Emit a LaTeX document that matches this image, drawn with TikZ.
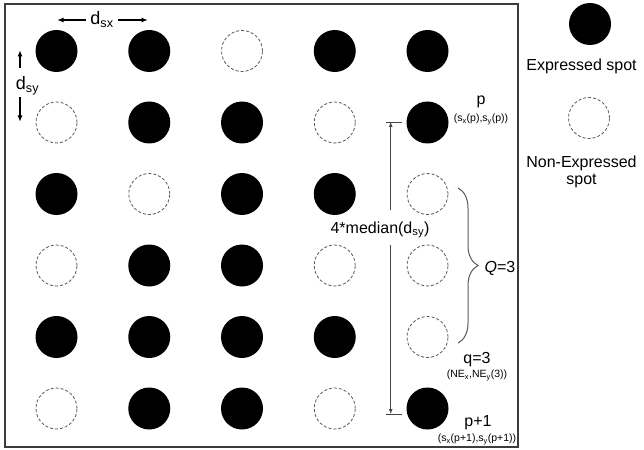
\documentclass[tikz,border=0pt]{standalone}
\usepackage{fontspec}
\setmainfont{Liberation Sans}
\usetikzlibrary{arrows.meta,decorations.pathreplacing}
\definecolor{dashgray}{HTML}{5A5A5A}
\definecolor{framegray}{HTML}{3C3C3C}
\definecolor{linegray}{HTML}{454545}
\begin{document}
\begin{tikzpicture}[x=1pt,y=-1pt,
  spotE/.style={circle,fill=black,minimum size=42pt,inner sep=0pt},
  spotN/.style={circle,draw=dashgray,line width=0.8pt,dash pattern=on 3pt off 2pt,minimum size=41pt,inner sep=0pt},
  dimarrow/.style={line width=1.3pt,-{Latex[length=6.5pt,width=5pt]}},
  medarrow/.style={draw=linegray,line width=0.9pt,-{Latex[length=5pt,width=4pt]}},
  bigtxt/.style={font=\fontsize{16}{17}\selectfont,inner sep=0pt},
  smalltxt/.style={font=\fontsize{10.5}{12}\selectfont,inner sep=0pt},
]
\useasboundingbox (0,0) rectangle (644,449);
\fill[white] (0,0) rectangle (644,449);
\draw[framegray,line width=1.3pt] (5,4) rectangle (518,447);

% row 1: E E N E E
\node[spotE] (s11) at (56.5,51) {};
\node[spotE] (s12) at (149.25,51) {};
\node[spotN] (s13) at (242,51) {};
\node[spotE] (s14) at (334.75,51) {};
\node[spotE] (s15) at (427.5,51) {};
% row 2: N E E N E
\node[spotN] (s21) at (56.5,122.5) {};
\node[spotE] (s22) at (149.25,122.5) {};
\node[spotE] (s23) at (242,122.5) {};
\node[spotN] (s24) at (334.75,122.5) {};
\node[spotE] (s25) at (427.5,122.5) {};
% row 3: E N E E N
\node[spotE] (s31) at (56.5,194) {};
\node[spotN] (s32) at (149.25,194) {};
\node[spotE] (s33) at (242,194) {};
\node[spotE] (s34) at (334.75,194) {};
\node[spotN] (s35) at (427.5,194) {};
% row 4: N E E N N
\node[spotN] (s41) at (56.5,265.5) {};
\node[spotE] (s42) at (149.25,265.5) {};
\node[spotE] (s43) at (242,265.5) {};
\node[spotN] (s44) at (334.75,265.5) {};
\node[spotN] (s45) at (427.5,265.5) {};
% row 5: E E E E N
\node[spotE] (s51) at (56.5,337) {};
\node[spotE] (s52) at (149.25,337) {};
\node[spotE] (s53) at (242,337) {};
\node[spotE] (s54) at (334.75,337) {};
\node[spotN] (s55) at (427.5,337) {};
% row 6: N E E N E
\node[spotN] (s61) at (56.5,408.5) {};
\node[spotE] (s62) at (149.25,408.5) {};
\node[spotE] (s63) at (242,408.5) {};
\node[spotN] (s64) at (334.75,408.5) {};
\node[spotE] (s65) at (427.5,408.5) {};

% d_sx
\node[font=\fontsize{18}{20}\selectfont,inner sep=0pt,anchor=base] (dsx) at (102,25) {d\textsubscript{sx}};
\coordinate (dsxL) at (57,20);
\coordinate (dsxR) at (148,20);
\coordinate (dsxLs) at (86,20);
\coordinate (dsxRs) at (118,20);
\draw[dimarrow] (dsxLs) -- (dsxL);
\draw[dimarrow] (dsxRs) -- (dsxR);

% d_sy
\node[font=\fontsize{18}{20}\selectfont,inner sep=0pt,anchor=base] (dsy) at (27.5,90) {d\textsubscript{sy}};
\coordinate (dsyT) at (20,50);
\coordinate (dsyTs) at (20,68);
\coordinate (dsyB) at (20,122);
\coordinate (dsyBs) at (20,97);
\draw[dimarrow] (dsyTs) -- (dsyT);
\draw[dimarrow] (dsyBs) -- (dsyB);

% 4*median arrow
\node[bigtxt,anchor=base] (med) at (380,233) {4*median(d\textsubscript{sy})};
\coordinate (mTop) at (390.7,122);
\coordinate (mBot) at (390.7,414);
\coordinate (mU) at (390.7,210);
\coordinate (mL) at (390.7,245);
\draw[medarrow] (mU) -- (mTop);
\draw[medarrow] (mL) -- (mBot);
\draw[linegray,line width=0.9pt] ([xshift=-5pt]mTop) -- ([xshift=11pt]mTop);
\draw[linegray,line width=0.9pt] ([xshift=-5pt]mBot) -- ([xshift=11pt]mBot);

% labels
\node[bigtxt,anchor=base] (lp) at (481,105) {p};
\node[smalltxt] (lpc) at (481,119.5) {(s\textsubscript{x}(p),s\textsubscript{y}(p))};
\node[bigtxt,anchor=base] (lq) at (477,363) {q=3};
\node[smalltxt] (lqc) at (477,375.5) {(NE\textsubscript{x},NE\textsubscript{y}(3))};
\node[bigtxt,anchor=base] (lp1) at (478,426.5) {p+1};
\node[smalltxt] (lp1c) at (477,439.5) {(s\textsubscript{x}(p+1),s\textsubscript{y}(p+1))};

% brace
\coordinate (brT) at (458,188);
\coordinate (brB) at (458,343);
\draw[dashgray,line width=1pt,decorate,decoration={brace,amplitude=20pt}] (brT) -- (brB);
\node[bigtxt,anchor=base] (Q) at (500,272) {\textit{Q}=3};

% legend
\node[spotE] (legE) at (590,24) {};
\node[bigtxt] (legEt) at (581.5,66) {Expressed spot};
\node[spotN] (legN) at (589,118) {};
\node[bigtxt,align=center] (legNt) at (581.5,172) {Non-Expressed\\spot};
\end{tikzpicture}
\end{document}
